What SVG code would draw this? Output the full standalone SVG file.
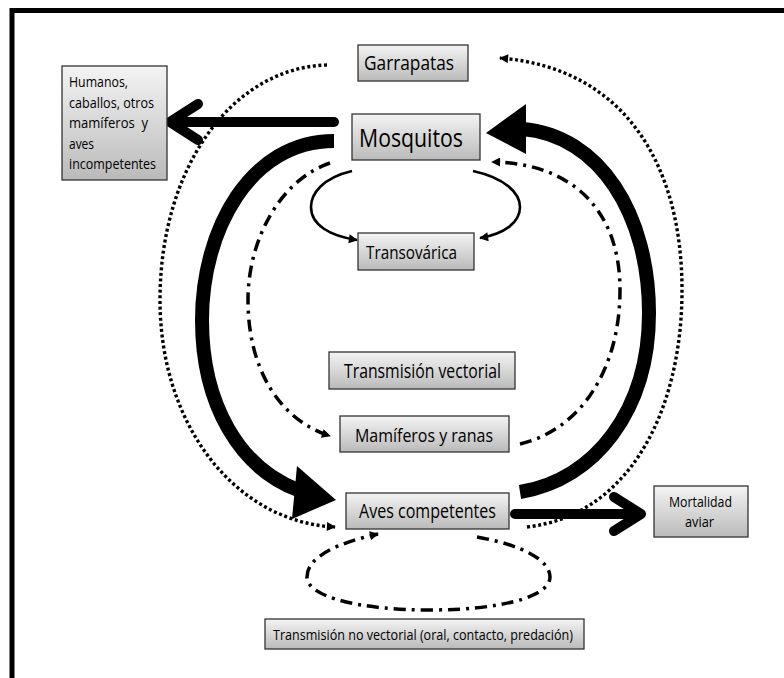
<svg xmlns="http://www.w3.org/2000/svg" width="784" height="678" viewBox="0 0 784 678">
<defs>
<linearGradient id="g" x1="0" y1="0" x2="0" y2="1">
<stop offset="0" stop-color="#f4f4f4"/>
<stop offset="1" stop-color="#bababa"/>
</linearGradient>
<marker id="arr" viewBox="0 0 10 10" refX="9" refY="5" markerWidth="10" markerHeight="9" markerUnits="userSpaceOnUse" orient="auto">
<path d="M0,0 L10,5 L0,10 z" fill="#000"/>
</marker>
<style>
.box{fill:url(#g);stroke:#333;stroke-width:1.3}
.t{font-family:"Open Sans","Liberation Sans",sans-serif;fill:#000;text-anchor:middle}
.ts{font-family:"Open Sans","Liberation Sans",sans-serif;fill:#000}
.dot{fill:none;stroke:#000;stroke-width:3.4;stroke-dasharray:3 2.6}
.dd{fill:none;stroke:#000;stroke-width:3.5;stroke-dasharray:12 6 3 6}
.thin{fill:none;stroke:#000;stroke-width:2.6}
.thick{fill:none;stroke:#000;stroke-width:14}
.bar{fill:none;stroke:#000;stroke-width:10;stroke-linecap:round;stroke-linejoin:round}
</style>
</defs>
<rect width="784" height="678" fill="#fff"/>
<path d="M12,678 V10.5 H784" fill="none" stroke="#000" stroke-width="5"/>

<g id="connectors">
<!-- Mosquitos -> Humanos -->
<path class="bar" d="M334,122 H174"/>
<path class="bar" d="M198,104 L170,122 L198,140"/>
<!-- Aves -> Mortalidad -->
<path class="bar" d="M515,514 H636"/>
<path class="bar" d="M614,497 L641,514 L614,531"/>
<!-- thick left: Mosquitos -> Aves -->
<path class="thick" d="M334,141 C250,141 202,230 202,320 C202,405 240,468 298,490"/>
<polygon points="336,500 297,466 292,519" fill="#000"/>
<!-- thick right: Aves -> Mosquitos -->
<path class="thick" d="M520,492 C595,480 649,410 649,313 C649,215 600,135 522,129"/>
<polygon points="486,133 526,104 526,154" fill="#000"/>
<!-- dotted outer left: Garrapatas -> Aves -->
<path class="dot" d="M327,65 C230,68 160,170 160,300 C160,425 235,522 335,527" marker-end="url(#arr)"/>
<!-- dotted outer right: Aves -> Garrapatas -->
<path class="dot" d="M527,527 C630,515 682,410 682,290 C682,165 625,68 500,58" marker-end="url(#arr)"/>
<!-- dash-dot inner left: Mosquitos -> Mamiferos -->
<path class="dd" d="M330,163 C280,180 248,240 248,300 C248,370 280,420 330,436" marker-end="url(#arr)"/>
<!-- dash-dot inner right: Mamiferos -> Mosquitos -->
<path class="dd" d="M520,444 C580,430 620,370 620,290 C620,210 572,163 492,162" marker-end="url(#arr)"/>
<!-- Transovarica loops -->
<path class="thin" d="M352,171 C322,178 311,194 311,207 C311,225 330,236 357,240" marker-end="url(#arr)"/>
<path class="thin" d="M473,171 C505,178 520,193 520,207 C520,222 505,234 480,238" marker-end="url(#arr)"/>
<!-- non-vector loop -->
<path class="dd" d="M477,537 C522,545 550,560 550,577 C550,597 500,610 430,610 C360,610 307,597 307,577 C307,557 337,543 378,534" marker-end="url(#arr)"/>
</g>

<g id="garrapatas">
<rect class="box" x="358" y="45" width="110" height="36"/>
<text class="t" x="409" y="70" font-size="20" textLength="90" lengthAdjust="spacingAndGlyphs">Garrapatas</text>
</g>
<g id="mosquitos">
<rect class="box" x="352" y="114" width="128" height="46"/>
<text class="t" x="411" y="147" font-size="25" textLength="104" lengthAdjust="spacingAndGlyphs">Mosquitos</text>
</g>
<g id="humanos">
<rect class="box" x="62" y="66" width="105" height="114"/>
<text class="ts" font-size="14">
<tspan x="69" y="87" textLength="59" lengthAdjust="spacingAndGlyphs">Humanos,</tspan>
<tspan x="69" y="108" textLength="85" lengthAdjust="spacingAndGlyphs">caballos, otros</tspan>
<tspan x="69" y="128" textLength="79" lengthAdjust="spacingAndGlyphs" xml:space="preserve">mamíferos  y</tspan>
<tspan x="69" y="149" textLength="25" lengthAdjust="spacingAndGlyphs">aves</tspan>
<tspan x="69" y="169" textLength="87" lengthAdjust="spacingAndGlyphs">incompetentes</tspan>
</text>
</g>
<g id="transovarica">
<rect class="box" x="358" y="233" width="116" height="37"/>
<text class="t" x="411.5" y="259" font-size="18" textLength="91" lengthAdjust="spacingAndGlyphs">Transovárica</text>
</g>
<g id="transmision-vectorial">
<rect class="box" x="329" y="352" width="186" height="37"/>
<text class="t" x="422.5" y="378" font-size="20" textLength="157" lengthAdjust="spacingAndGlyphs">Transmisión vectorial</text>
</g>
<g id="mamiferos">
<rect class="box" x="340" y="416" width="169" height="36"/>
<text class="t" x="424" y="442" font-size="19" textLength="138" lengthAdjust="spacingAndGlyphs">Mamíferos y ranas</text>
</g>
<g id="aves">
<rect class="box" x="346" y="493" width="163" height="36"/>
<text class="t" x="427.5" y="518" font-size="19.5" textLength="137" lengthAdjust="spacingAndGlyphs">Aves competentes</text>
</g>
<g id="mortalidad">
<rect class="box" x="654" y="486" width="94" height="51"/>
<text class="t" x="700.5" y="507" font-size="14" textLength="63" lengthAdjust="spacingAndGlyphs">Mortalidad</text>
<text class="t" x="699.5" y="527" font-size="14" textLength="29" lengthAdjust="spacingAndGlyphs">aviar</text>
</g>
<g id="no-vectorial">
<rect class="box" x="265" y="619" width="319" height="30"/>
<text class="t" x="423" y="640" font-size="14" textLength="300" lengthAdjust="spacingAndGlyphs">Transmisión no vectorial (oral, contacto, predación)</text>
</g>
</svg>
